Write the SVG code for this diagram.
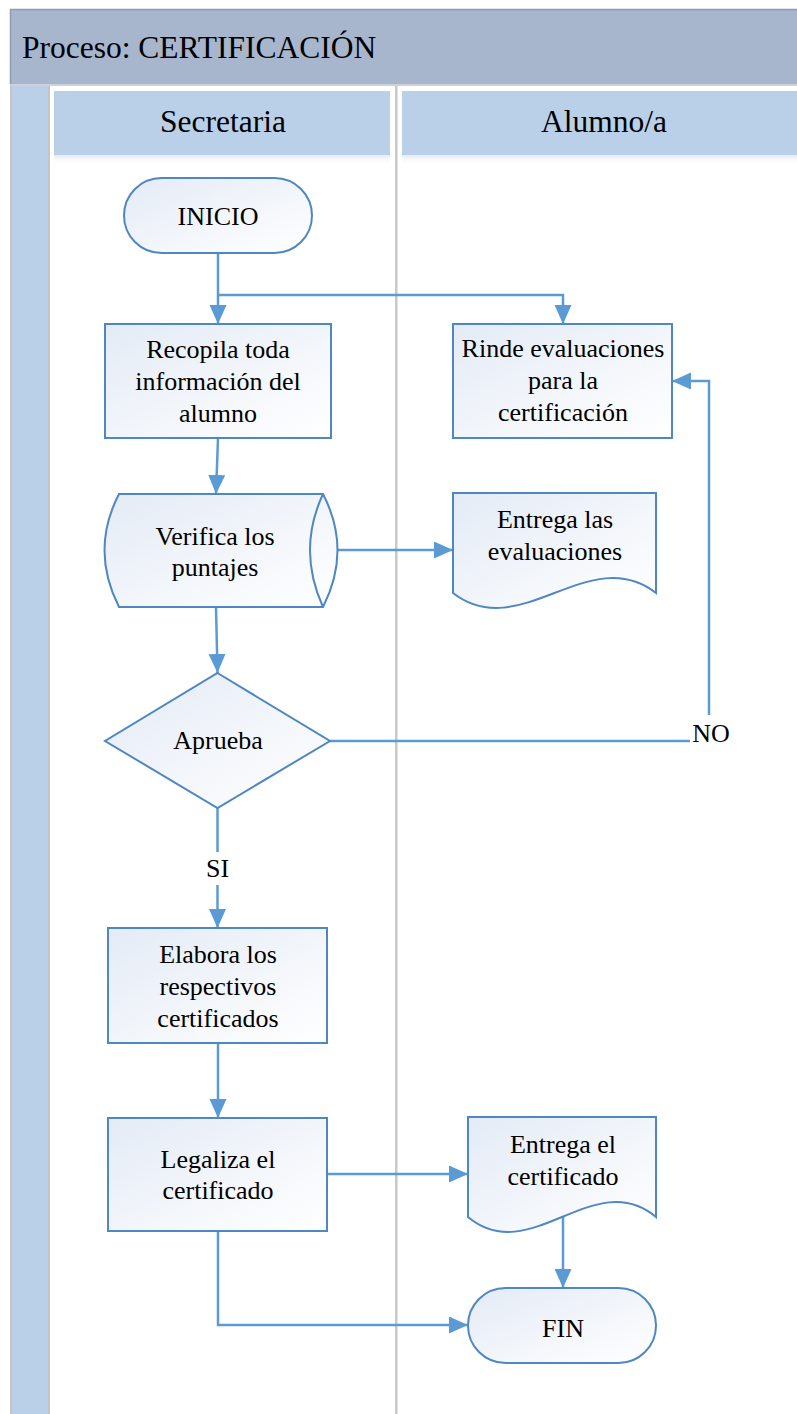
<svg xmlns="http://www.w3.org/2000/svg" width="797" height="1414" viewBox="0 0 797 1414" font-family="'Liberation Serif', 'Times New Roman', serif">
<style>
text{fill:#000;text-anchor:middle}
.t{font-size:26px}
.h{font-size:31.5px}
.node{fill:url(#ng);stroke:#4f87c2;stroke-width:2}
.c{fill:none;stroke:#5b9bd5;stroke-width:2.5}
.a{marker-end:url(#arr)}
</style>
<defs>
<linearGradient id="ng" x1="0" y1="0" x2="1" y2="1">
<stop offset="0" stop-color="#e4ebf6"/>
<stop offset="1" stop-color="#ffffff"/>
</linearGradient>
<linearGradient id="sh" x1="0" y1="0" x2="0" y2="1">
<stop offset="0" stop-color="#e6e9ee"/>
<stop offset="1" stop-color="#ffffff" stop-opacity="0"/>
</linearGradient>
<marker id="arr" markerUnits="userSpaceOnUse" markerWidth="20" markerHeight="18" refX="19" refY="8.5" orient="auto">
<path d="M0,0 L19,8.5 L0,17 Z" fill="#5b9bd5"/>
</marker>
</defs>
<rect width="797" height="1414" fill="#ffffff"/>
<g id="pool">
<rect x="10" y="9" width="787" height="75" fill="#a7b6cd"/>
<line x1="10" y1="9.5" x2="797" y2="9.5" stroke="#8c9cb4" stroke-width="1.5"/>
<line x1="10.5" y1="9" x2="10.5" y2="84" stroke="#8c9cb4" stroke-width="1.5"/>
<rect x="10" y="84" width="787" height="2" fill="#cdd1d8"/>
<text x="22" y="58" class="h" font-family="Liberation Serif" style="text-anchor:start">Proceso: CERTIFICACIÓN</text>
<rect x="10" y="86" width="40" height="1328" fill="#bacfe8"/>
<rect x="10" y="86" width="2" height="1328" fill="#c4c4c4"/>
<rect x="48" y="86" width="2" height="1328" fill="#c4c4c4"/>
<rect x="395" y="86" width="2.5" height="1328" fill="#c8c8c8"/>
</g>
<g id="lane-secretaria">
<rect x="54" y="91" width="336" height="64" fill="#bacfe8"/>
<rect x="54" y="155" width="336" height="10" fill="url(#sh)"/>
<text x="223" y="132" class="h">Secretaria</text>
</g>
<g id="lane-alumno">
<rect x="402" y="91" width="395" height="64" fill="#bacfe8"/>
<rect x="402" y="155" width="395" height="10" fill="url(#sh)"/>
<text x="604" y="132" class="h">Alumno/a</text>
</g>
<g id="connectors">
<path class="c a" d="M218,253 V324"/>
<path class="c a" d="M218,295 H563 V324"/>
<path class="c a" d="M218,438 L216,494"/>
<path class="c a" d="M323,550 H453"/>
<path class="c a" d="M216,607 L217.5,673"/>
<path class="c" d="M217.5,808 V852"/>
<path class="c a" d="M217.5,885 V928"/>
<path class="c" d="M330,741 H690"/>
<path class="c a" d="M709,715 V381 H672"/>
<path class="c a" d="M218,1043 V1118"/>
<path class="c a" d="M327,1174 H468"/>
<path class="c a" d="M563,1213 V1288"/>
<path class="c a" d="M218,1231 V1325 H468"/>
<text x="217.5" y="877" class="t">SI</text>
<text x="711" y="742" class="t">NO</text>
</g>
<g id="inicio">
<rect class="node" x="124" y="178" width="188" height="75" rx="37.5"/>
<text x="218" y="225" class="t">INICIO</text>
</g>
<g id="recopila">
<rect class="node" x="105" y="324" width="226" height="114"/>
<text class="t" x="218" y="358">Recopila toda</text>
<text class="t" x="218" y="390">información del</text>
<text class="t" x="218" y="421.5">alumno</text>
</g>
<g id="rinde">
<rect class="node" x="453" y="324" width="219" height="114"/>
<text class="t" x="563" y="357">Rinde evaluaciones</text>
<text class="t" x="563" y="389">para la</text>
<text class="t" x="563" y="421">certificación</text>
</g>
<g id="verifica">
<path class="node" d="M119,494 H323 Q352,550 323,607 H119 Q90,550 119,494 Z"/>
<path d="M323,494 Q297,550 323,607" fill="none" stroke="#4f87c2" stroke-width="2"/>
<text class="t" x="215" y="545">Verifica los</text>
<text class="t" x="215" y="576">puntajes</text>
</g>
<g id="entrega-evaluaciones">
<path class="node" d="M453,493 H656 V593 C589,541 520,645 453,593 Z"/>
<text class="t" x="555" y="528">Entrega las</text>
<text class="t" x="555" y="560">evaluaciones</text>
</g>
<g id="aprueba">
<path class="node" d="M217.5,673 L330,741 L217.5,808 L105,741 Z"/>
<text class="t" x="218" y="749">Aprueba</text>
</g>
<g id="elabora">
<rect class="node" x="108" y="928" width="219" height="115"/>
<text class="t" x="218" y="963">Elabora los</text>
<text class="t" x="218" y="995">respectivos</text>
<text class="t" x="218" y="1027">certificados</text>
</g>
<g id="legaliza">
<rect class="node" x="108" y="1118" width="219" height="113"/>
<text class="t" x="218" y="1168">Legaliza el</text>
<text class="t" x="218" y="1199">certificado</text>
</g>
<g id="entrega-certificado">
<path class="node" d="M468,1117 H656 V1217 C594,1165 530,1269 468,1217 Z"/>
<text class="t" x="563" y="1153">Entrega el</text>
<text class="t" x="563" y="1185">certificado</text>
</g>
<g id="fin">
<rect class="node" x="468" y="1288" width="188" height="75" rx="37.5"/>
<text class="t" x="563" y="1337">FIN</text>
</g>
</svg>
